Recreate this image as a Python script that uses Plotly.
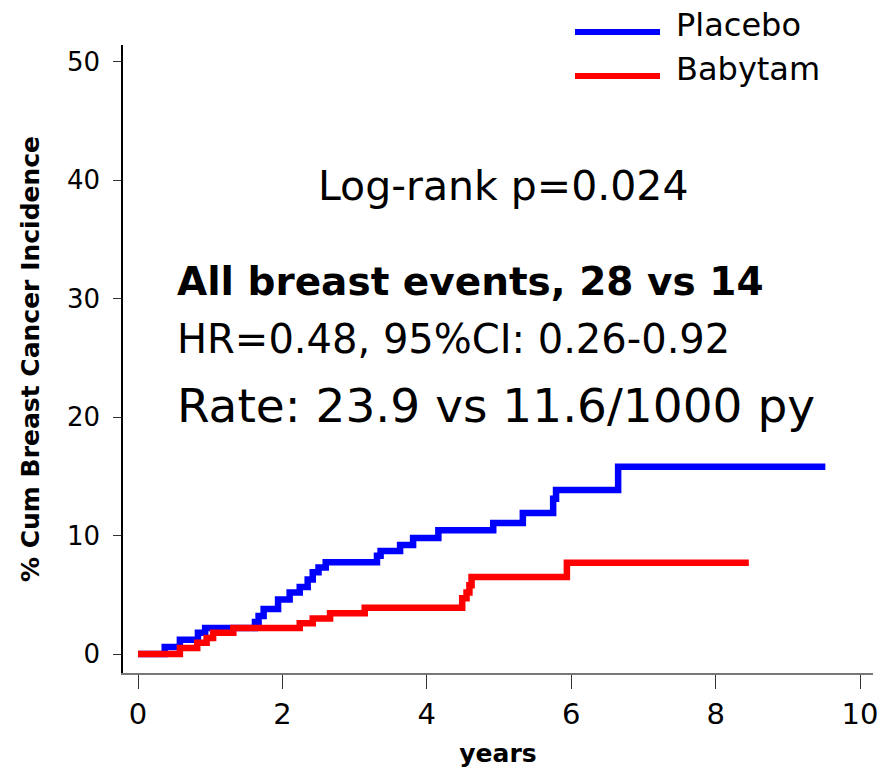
import plotly.graph_objects as go

# Kaplan-Meier style cumulative incidence (%), step functions
placebo_years = [0, 0.37, 0.58, 0.83, 0.93, 1.62, 1.67, 1.74, 1.94, 2.10, 2.24, 2.35, 2.42,
                 2.50, 2.60, 3.31, 3.36, 3.63, 3.81, 4.16, 4.92, 5.33, 5.75, 5.79, 6.65, 9.52]
placebo_pct = [0, 0.6, 1.2, 1.8, 2.2, 2.7, 3.2, 3.8, 4.6, 5.2, 5.65, 6.3, 6.9,
               7.3, 7.75, 8.3, 8.7, 9.2, 9.8, 10.45, 11.05, 11.9, 13.1, 13.85, 15.8, 15.8]

babytam_years = [0, 0.58, 0.82, 0.95, 1.04, 1.32, 2.24, 2.42, 2.66, 3.14,
                 4.49, 4.55, 4.59, 4.62, 5.94, 8.46]
babytam_pct = [0, 0.5, 0.95, 1.35, 1.8, 2.2, 2.6, 3.0, 3.45, 3.9,
               4.7, 5.2, 5.8, 6.5, 7.7, 7.7]

x_ticks = [0, 2, 4, 6, 8, 10]
y_ticks = [0, 10, 20, 30, 40, 50]

series_names = ["Placebo", "Babytam"]
series_colors = ["#0000ff", "#ff0000"]

W, H = 879, 774
ML, MR, MT, MB = 123, 6, 45, 101
FONT = "DejaVu Sans"


def px(x):
    return (x - ML) / (W - ML - MR)


def py(y):
    return (H - MB - y) / (H - MT - MB)


fig = go.Figure()
for xs, ys, name, color in [
    (placebo_years, placebo_pct, series_names[0], series_colors[0]),
    (babytam_years, babytam_pct, series_names[1], series_colors[1]),
]:
    fig.add_trace(go.Scatter(
        x=xs, y=ys, mode="lines", name=name,
        line=dict(shape="hv", color=color, width=6.5),
        showlegend=False, hoverinfo="skip",
    ))

# legend drawn as line swatches with labels
for i, (name, color) in enumerate(zip(series_names, series_colors)):
    ly = [32, 76][i]
    fig.add_shape(type="line", xref="paper", yref="paper",
                  x0=px(575), x1=px(660), y0=py(ly), y1=py(ly),
                  line=dict(color=color, width=6))
    fig.add_annotation(xref="paper", yref="paper", x=px(674), y=py(ly - 7),
                       text=name, showarrow=False, xanchor="left", yanchor="middle",
                       font=dict(family=FONT, size=32, color="#000"))

texts = [
    ("Log-rank p=0.024", 503, 186, "center", 41, False),
    ("All breast events, 28 vs 14", 175, 281, "left", 39, True),
    ("HR=0.48, 95%CI: 0.26-0.92", 175, 339, "left", 40, False),
    ("Rate: 23.9 vs 11.6/1000 py", 175, 406, "left", 47, False),
]
for t, x, y, anchor, size, bold in texts:
    fig.add_annotation(xref="paper", yref="paper", x=px(x), y=py(y),
                       text=f"<b>{t}</b>" if bold else t, showarrow=False,
                       xanchor=anchor, yanchor="middle",
                       font=dict(family=FONT, size=size, color="#000"))

fig.update_layout(
    width=W, height=H,
    margin=dict(l=ML, r=MR, t=MT, b=MB, autoexpand=False),
    paper_bgcolor="white", plot_bgcolor="white",
    font=dict(family=FONT, color="#000"),
    xaxis=dict(
        range=[-0.208, 10.18], tickmode="array", tickvals=x_ticks,
        ticks="outside", ticklen=14, tickwidth=1, tickcolor="#333",
        showline=True, linecolor="#777", linewidth=2,
        showgrid=False, zeroline=False,
        ticklabeloverflow="allow",
        tickfont=dict(family=FONT, size=29, color="#000"),
        title=dict(text="<b>years</b>", standoff=15,
                   font=dict(family=FONT, size=25, color="#000")),
    ),
    yaxis=dict(
        range=[-1.6, 51.4], tickmode="array", tickvals=y_ticks,
        ticks="outside", ticklen=8, tickwidth=1, tickcolor="#333",
        showline=True, linecolor="#000", linewidth=1.5,
        showgrid=False, zeroline=False,
        ticklabelstandoff=8,
        tickfont=dict(family=FONT, size=26, color="#000"),
        title=dict(text="<b>% Cum Breast Cancer Incidence</b>", standoff=20,
                   font=dict(family=FONT, size=25, color="#000")),
    ),
)

fig.write_html("out.html")
